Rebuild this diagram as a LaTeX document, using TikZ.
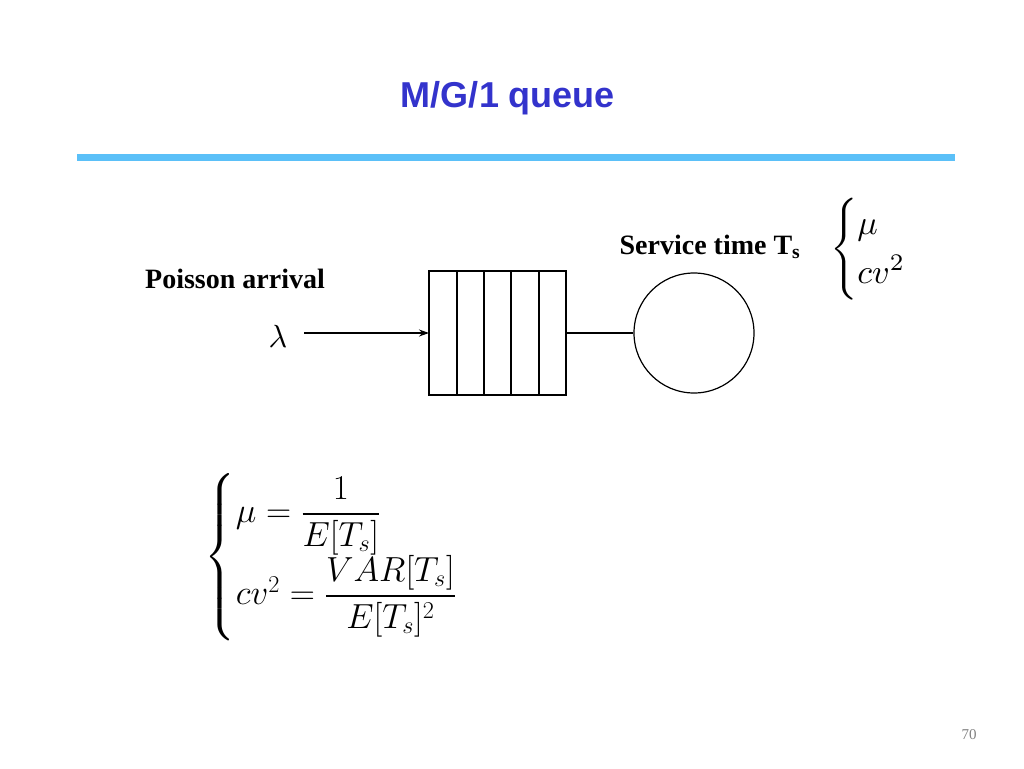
\documentclass[tikz,border=0pt]{standalone}
\usepackage{amsmath}
\usepackage{fontspec}
\setmainfont{Liberation Serif}
\newfontfamily\titlefont{Liberation Sans}
\usetikzlibrary{arrows.meta}
\definecolor{titleblue}{RGB}{51,51,204}
\definecolor{barblue}{RGB}{91,192,248}
\begin{document}
\begin{tikzpicture}[x=1pt,y=-1pt,
  line/.style={line width=1.2pt,black},
  lab/.style={font=\fontsize{28}{32}\selectfont\bfseries,inner sep=0pt}]
\useasboundingbox (0,0) rectangle (1024,768);
\node[font=\titlefont\fontsize{36}{40}\selectfont\bfseries,text=titleblue] (title) at (508,98) {M/G/1 queue};
\fill[barblue] (77,154) rectangle (955,161);
% queue
\draw[line] (429,271) rectangle (566,395);
\foreach \x in {457,484,511,539} \draw[line] (\x,271) -- (\x,395);
\coordinate (qin) at (429,333);
\coordinate (qout) at (566,333);
\node[draw,line width=1.2pt,circle,minimum size=120pt,inner sep=0pt] (server) at (694,333) {};
\draw[line] (qout) -- (server.west);
\node[scale=3.2] (lambda) at (278,336) {$\lambda$};
\draw[line,-{Stealth[length=10pt,width=7pt]}] (304,333) -- (qin);
\node[lab] (poisson) at (235,279) {Poisson arrival};
\node[lab] (service) at (710,247) {Service time T\textsubscript{s}};
\node[scale=3.4,anchor=west] (params) at (818,249) {$\begin{cases}\mu\\ cv^2\end{cases}$};
\node[font=\fontsize{26}{30}\selectfont,scale=1.4,anchor=west] (formula) at (200,557) {$\begin{cases}\mu=\dfrac{1}{E[T_s]}\\[10pt] cv^2=\dfrac{VAR[T_s]}{E[T_s]^2}\end{cases}$};
\node[font=\fontsize{15}{16}\selectfont,text=gray] (page) at (969,735) {70};
\end{tikzpicture}
\end{document}
